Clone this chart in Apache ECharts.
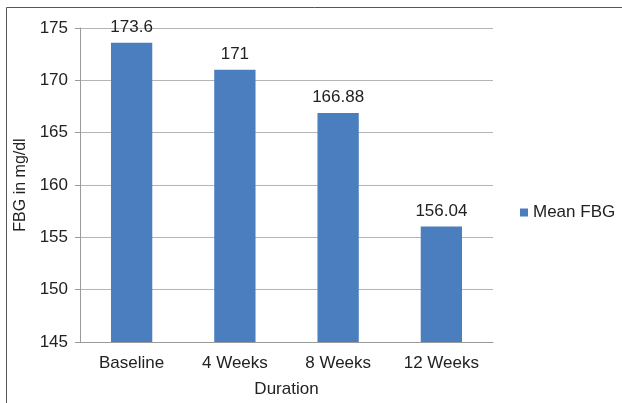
<!DOCTYPE html>
<html>
<head>
<meta charset="utf-8">
<script src="https://cdn.jsdelivr.net/npm/echarts@6/dist/echarts.min.js"></script>
<style>html,body{margin:0;padding:0;background:#fff}#c{width:622px;height:403px}</style>
</head>
<body>
<div id="c"></div>
<script>
const categories = ['Baseline', '4 Weeks', '8 Weeks', '12 Weeks'];
const meanFBG = [173.6, 171, 166.88, 156.04];
const valueLabels = ['173.6', '171', '166.88', '156.04'];
const seriesName = 'Mean FBG';

const chart = echarts.init(document.getElementById('c'), null, {renderer: 'canvas'});
const font = 'Liberation Sans, Arial, sans-serif';
chart.setOption({
  animation: false,
  textStyle: {fontFamily: font},
  graphic: [{
    type: 'rect', silent: true,
    shape: {x: 6.5, y: 7.5, width: 700, height: 500},
    style: {fill: 'none', stroke: '#555', lineWidth: 1}
  }],
  grid: {left: 80, right: 129, top: 28, bottom: 60, containLabel: false},
  legend: {
    data: [seriesName],
    orient: 'vertical',
    left: 520, top: 204,
    padding: 0,
    itemWidth: 8, itemHeight: 8,
    icon: 'rect',
    itemGap: 6,
    textStyle: {fontSize: 17, color: '#222', fontFamily: font}
  },
  xAxis: {
    type: 'category',
    data: categories,
    name: 'Duration',
    nameLocation: 'middle',
    nameGap: 39,
    nameTextStyle: {fontSize: 17, color: '#222', fontFamily: font},
    axisLine: {lineStyle: {color: '#9a9a9a', width: 1}},
    axisTick: {show: false},
    axisLabel: {fontSize: 17, color: '#222', margin: 13, fontFamily: font}
  },
  yAxis: {
    type: 'value',
    min: 145, max: 175, interval: 5,
    name: 'FBG in mg/dl',
    nameLocation: 'middle',
    nameGap: 49,
    nameTextStyle: {fontSize: 16, color: '#222', fontFamily: font},
    axisLine: {show: true, lineStyle: {color: '#9a9a9a', width: 1}},
    axisTick: {show: true, length: 5, lineStyle: {color: '#9a9a9a'}},
    axisLabel: {fontSize: 17, color: '#222', margin: 12, fontFamily: font},
    splitLine: {lineStyle: {color: '#b4b4b4', width: 1}}
  },
  series: [{
    name: seriesName,
    type: 'bar',
    data: meanFBG,
    barWidth: '40%',
    itemStyle: {color: '#4a7ebf'},
    label: {
      show: true, position: 'top', distance: 7,
      fontSize: 17, color: '#222', fontFamily: font,
      formatter: p => valueLabels[p.dataIndex]
    }
  }]
});
</script>
</body>
</html>
